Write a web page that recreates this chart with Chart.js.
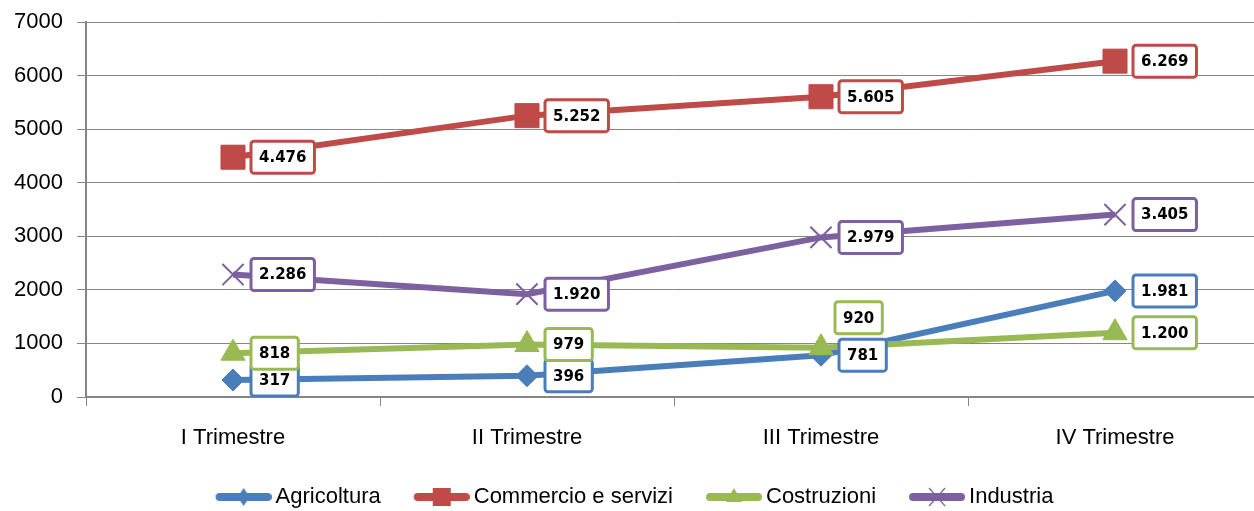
<!DOCTYPE html>
<html>
<head>
<meta charset="utf-8">
<script src="https://cdn.jsdelivr.net/npm/chart.js@4/dist/chart.umd.min.js"></script>
<style>
  html, body { margin: 0; padding: 0; background: #fff; overflow: hidden; }
  canvas { display: block; }
</style>
</head>
<body>
<canvas id="chart" width="1294" height="511"></canvas>
<script>
const categories = ['I Trimestre', 'II Trimestre', 'III Trimestre', 'IV Trimestre'];
const agricoltura = [317, 396, 781, 1981];
const commercio = [4476, 5252, 5605, 6269];
const costruzioni = [818, 979, 920, 1200];
const industria = [2286, 1920, 2979, 3405];
const yTicks = [0, 1000, 2000, 3000, 4000, 5000, 6000, 7000];

const BLUE = '#4A7EBB', RED = '#BE4B48', GREEN = '#98B954', PURPLE = '#7D60A0';
const gridColor = '#868686';
const axisFont = { family: "'Liberation Sans', Arial, sans-serif", size: 22 };

// thousands with a dot, like the Italian labels
const fmt = v => String(v).replace(/\B(?=(\d{3})+(?!\d))/g, '.');

// legend icon: a short thick line with the series marker in the middle
function legendIcon(color, kind) {
  const c = document.createElement('canvas');
  c.width = 70; c.height = 24;
  const g = c.getContext('2d');
  g.strokeStyle = color; g.fillStyle = color;
  g.lineWidth = 8; g.lineCap = 'round';
  g.beginPath(); g.moveTo(18, 12); g.lineTo(66, 12); g.stroke();
  const cx = 42, cy = 12;
  g.beginPath();
  if (kind === 'diamond') {
    g.moveTo(cx, cy - 9); g.lineTo(cx + 6, cy); g.lineTo(cx, cy + 9); g.lineTo(cx - 6, cy); g.closePath(); g.fill();
  } else if (kind === 'square') {
    g.fillRect(cx - 9, cy - 9, 18, 18);
  } else if (kind === 'triangle') {
    g.moveTo(cx, cy - 9); g.lineTo(cx + 8, cy + 5); g.lineTo(cx - 8, cy + 5); g.closePath(); g.fill();
  } else {
    g.lineWidth = 1.2; g.lineCap = 'butt';
    g.moveTo(cx - 8, cy - 9); g.lineTo(cx + 8, cy + 9);
    g.moveTo(cx + 8, cy - 9); g.lineTo(cx - 8, cy + 9); g.stroke();
  }
  return c;
}

const valueBoxes = {
  id: 'valueBoxes',
  afterDatasetsDraw(chart) {
    const ctx = chart.ctx;
    ctx.save();
    ctx.font = "bold 15px 'DejaVu Sans', sans-serif";
    ctx.textAlign = 'center';
    ctx.textBaseline = 'middle';
    chart.data.datasets.forEach((ds, i) => {
      const meta = chart.getDatasetMeta(i);
      meta.data.forEach((pt, j) => {
        const txt = fmt(ds.data[j]);
        const w = ctx.measureText(txt).width + 16, h = 32;
        let left = pt.x + 18, cy = pt.y;
        if (ds.labelAbove && ds.labelAbove.includes(j)) { left = pt.x + 14; cy = pt.y - 30; }
        ctx.fillStyle = '#fff';
        ctx.strokeStyle = ds.borderColor;
        ctx.lineWidth = 3;
        ctx.beginPath();
        ctx.roundRect(left, cy - h / 2, w, h, 3);
        ctx.fill();
        ctx.stroke();
        ctx.fillStyle = '#000';
        ctx.fillText(txt, left + w / 2, cy + 1);
      });
    });
    ctx.restore();
  }
};

const series = [
  { label: 'Agricoltura', data: agricoltura, color: BLUE, style: 'rectRot', r: 11, icon: 'diamond' },
  { label: 'Commercio e servizi', data: commercio, color: RED, style: 'rect', r: 17, icon: 'square' },
  { label: 'Costruzioni', data: costruzioni, color: GREEN, style: 'triangle', r: 14, icon: 'triangle', labelAbove: [2] },
  { label: 'Industria', data: industria, color: PURPLE, style: 'crossRot', r: 15, icon: 'cross' }
];

new Chart(document.getElementById('chart'), {
  type: 'line',
  data: {
    labels: categories,
    datasets: series.map((s, i) => ({
      label: s.label,
      data: s.data,
      borderColor: s.color,
      backgroundColor: s.color,
      borderWidth: 6,
      tension: 0,
      pointStyle: s.style,
      pointRadius: s.r,
      pointBackgroundColor: s.color,
      pointBorderColor: s.color,
      pointBorderWidth: s.style === 'crossRot' ? 2 : 1,
      legendIcon: legendIcon(s.color, s.icon),
      labelAbove: s.labelAbove,
      order: 3 - i
    }))
  },
  options: {
    responsive: false,
    animation: false,
    layout: { padding: { top: 22, right: 32, left: 0, bottom: 0 } },
    plugins: {
      tooltip: { enabled: false },
      legend: {
        position: 'bottom',
        maxHeight: 51,
        sort: (a, b) => a.datasetIndex - b.datasetIndex,
        labels: {
          color: '#000',
          font: axisFont,
          usePointStyle: true,
          pointStyleWidth: 56,
          padding: 26,
          generateLabels: chart => chart.data.datasets.map((ds, i) => ({
            text: ds.label,
            pointStyle: ds.legendIcon,
            fillStyle: ds.borderColor,
            strokeStyle: ds.borderColor,
            lineWidth: 0,
            fontColor: '#000',
            hidden: false,
            datasetIndex: i
          }))
        }
      }
    },
    scales: {
      x: {
        offset: true,
        grid: { display: true, drawOnChartArea: false, drawTicks: true, tickLength: 9, color: gridColor, offset: true },
        border: { color: gridColor, width: 2 },
        ticks: { color: '#000', font: axisFont, padding: 19, maxRotation: 0 },
        afterFit: scale => { scale.height = 63; }
      },
      y: {
        min: 0,
        max: 7000,
        afterBuildTicks: scale => { scale.ticks = yTicks.map(v => ({ value: v })); },
        grid: { color: gridColor, tickLength: 9, lineWidth: 1 },
        border: { color: gridColor, width: 2 },
        ticks: { color: '#000', font: axisFont, padding: 14, callback: v => String(v) },
        afterFit: scale => { scale.width = 86; scale.paddingTop = 0; scale.paddingBottom = 0; }
      }
    }
  },
  plugins: [valueBoxes]
});
</script>
</body>
</html>
